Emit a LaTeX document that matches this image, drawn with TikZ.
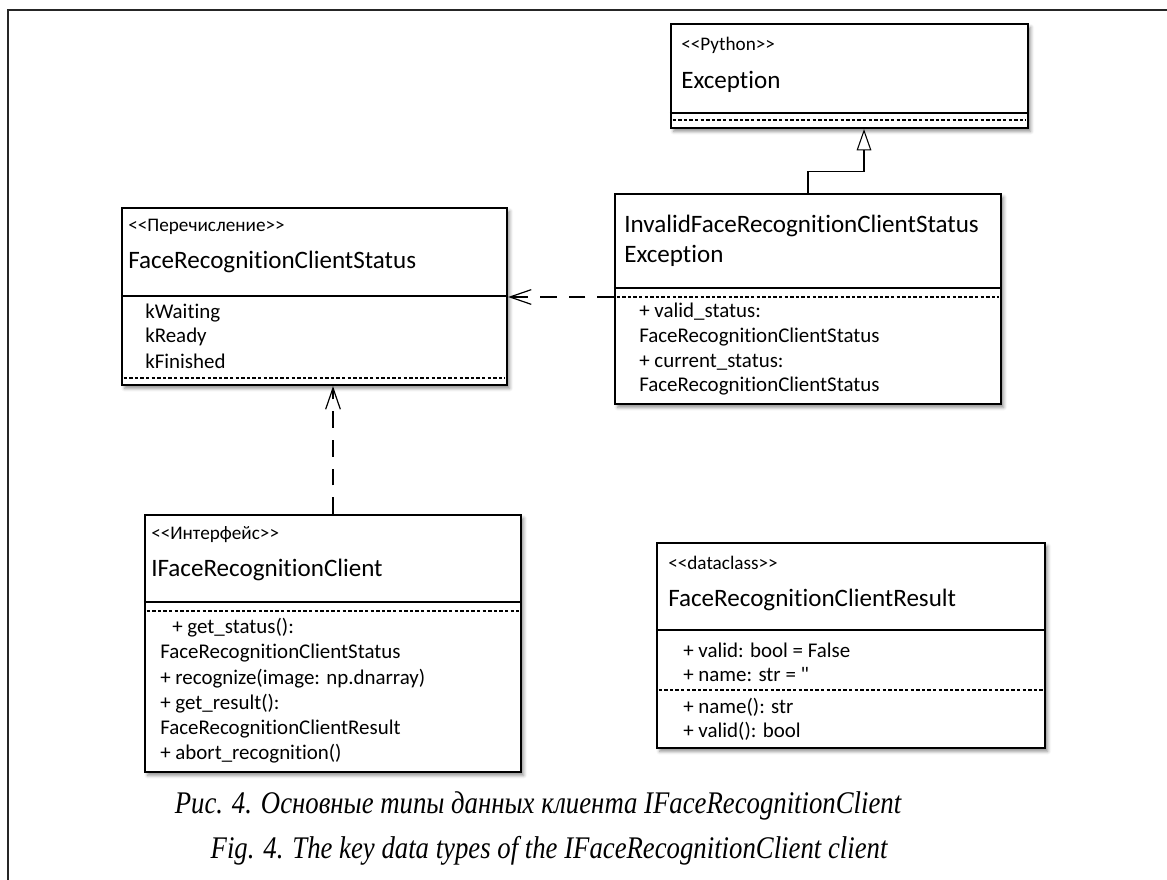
\documentclass[tikz,border=0pt]{standalone}
\usepackage{fontspec}
\setmainfont{Carlito}[Ligatures={TeXOff,CommonOff}]
\newfontfamily\capfont{Liberation Serif}[FakeStretch=0.85]
\usetikzlibrary{arrows.meta,shadows.blur,fit}

\tikzset{
  umlbox/.style={draw=black, line width=1.6pt, fill=white, inner sep=0pt,
    blur shadow={shadow xshift=2pt, shadow yshift=-2.5pt, shadow blur radius=2.5pt, shadow opacity=45}},
  solidsep/.style={line width=1.6pt},
  dashsep/.style={line width=0.9pt, dash pattern=on 2.6pt off 1.6pt},
  stereo/.style={anchor=west, inner sep=0pt, font=\fontsize{14.4pt}{16pt}\selectfont},
  clsname/.style={anchor=west, inner sep=0pt, font=\fontsize{18.8pt}{21pt}\selectfont},
  member/.style={anchor=west, inner sep=0pt, font=\fontsize{15.7pt}{17pt}\selectfont},
  dependency/.style={line width=1.1pt, dash pattern=on 12.5pt off 9pt,
    -{Straight Barb[length=16pt, width=11pt, line width=0.9pt]}},
  generalization/.style={line width=0.8pt,
    -{Triangle[open, length=16pt, width=11pt, line width=0.8pt, fill=white]}},
  caption/.style={inner sep=0pt, font=\capfont\itshape\fontsize{23.6pt}{27pt}\selectfont}
}

\begin{document}
\begin{tikzpicture}[x=0.75pt, y=-0.75pt]
  \useasboundingbox (0,0) rectangle (1167,880);
  % page frame
  \draw[line width=1.2pt, draw=black!85] (8,880) -- (8,10) -- (1167,10);

  % ---- Exception ----
  \node[umlbox, fit={(671,24) (1028,128)}] (exc) {};
  \draw[solidsep] (exc.west |- 0,113) -- (exc.east |- 0,113);
  \draw[dashsep] ([xshift=2pt]exc.west |- 0,120) -- ([xshift=-2pt]exc.east |- 0,120);
  \node[stereo] (exc-st) at (681,45) {<{}<Python>{}>};
  \node[clsname] (exc-nm) at (681,82) {Exception};

  % ---- InvalidFaceRecognitionClientStatusException ----
  \node[umlbox, fit={(615,194) (1001,404)}] (inv) {};
  \draw[solidsep] (inv.west |- 0,288) -- (inv.east |- 0,288);
  \draw[dashsep] ([xshift=2pt]inv.west |- 0,297) -- ([xshift=-2pt]inv.east |- 0,297);
  \node[clsname] (inv-nm1) at (624,226) {InvalidFaceRecognitionClientStatus};
  \node[clsname] (inv-nm2) at (624,256) {Exception};
  \node[member] (inv-a1) at (639,312) {+ valid\_status:};
  \node[member] (inv-a2) at (639,337) {FaceRecognitionClientStatus};
  \node[member] (inv-a3) at (639,362) {+ current\_status:};
  \node[member] (inv-a4) at (639,386) {FaceRecognitionClientStatus};

  % ---- FaceRecognitionClientStatus ----
  \node[umlbox, fit={(122,208) (507,385)}] (status) {};
  \draw[solidsep] (status.west |- 0,296) -- (status.east |- 0,296);
  \draw[dashsep] ([xshift=2pt]status.west |- 0,378) -- ([xshift=-2pt]status.east |- 0,378);
  \node[stereo] (st-st) at (128,227) {<{}<Перечисление>{}>};
  \node[clsname] (st-nm) at (128,262) {FaceRecognitionClientStatus};
  \node[member] (st-a1) at (145,313) {kWaiting};
  \node[member] (st-a2) at (145,337) {kReady};
  \node[member] (st-a3) at (145,361) {kFinished};

  % ---- IFaceRecognitionClient ----
  \node[umlbox, fit={(145,515) (521,772)}] (iface) {};
  \draw[solidsep] (iface.west |- 0,602) -- (iface.east |- 0,602);
  \draw[dashsep] ([xshift=2pt]iface.west |- 0,611) -- ([xshift=-2pt]iface.east |- 0,611);
  \node[stereo] (if-st) at (151,535) {<{}<Интерфейс>{}>};
  \node[clsname] (if-nm) at (151,570) {IFaceRecognitionClient};
  \node[member] (if-m1) at (172,628) {+ get\_status():};
  \node[member] (if-m2) at (160,653) {FaceRecognitionClientStatus};
  \node[member] (if-m3) at (160,679) {+ recognize(image: np.dnarray)};
  \node[member] (if-m4) at (160,704) {+ get\_result():};
  \node[member] (if-m5) at (160,729) {FaceRecognitionClientResult};
  \node[member] (if-m6) at (160,754) {+ abort\_recognition()};

  % ---- FaceRecognitionClientResult ----
  \node[umlbox, fit={(657,543) (1045,748)}] (result) {};
  \draw[solidsep] (result.west |- 0,630) -- (result.east |- 0,630);
  \draw[dashsep] ([xshift=2pt]result.west |- 0,690) -- ([xshift=-2pt]result.east |- 0,690);
  \node[stereo] (rs-st) at (668,563) {<{}<dataclass>{}>};
  \node[clsname] (rs-nm) at (668,600) {FaceRecognitionClientResult};
  \node[member] (rs-a1) at (683,650) {+ valid: bool = False};
  \node[member] (rs-a2) at (683,675) {+ name: str = \symbol{"22}};
  \node[member] (rs-m1) at (683,707) {+ name(): str};
  \node[member] (rs-m2) at (683,731) {+ valid(): bool};

  % ---- relations ----
  \draw[generalization] (inv.north) -- ++(0,-21) -| (exc.south -| 864,0);
  \draw[dependency] (inv.west |- 0,297) -- (status.east |- 0,297);
  \draw[dependency] (iface.north) -- (iface.north |- status.south);

  % ---- captions ----
  \node[caption] (cap1) at (538,806) {Рис. 4. Основные типы данных клиента IFaceRecognitionClient};
  \node[caption] (cap2) at (549,851) {Fig. 4. The key data types of the IFaceRecognitionClient client};
\end{tikzpicture}
\end{document}
